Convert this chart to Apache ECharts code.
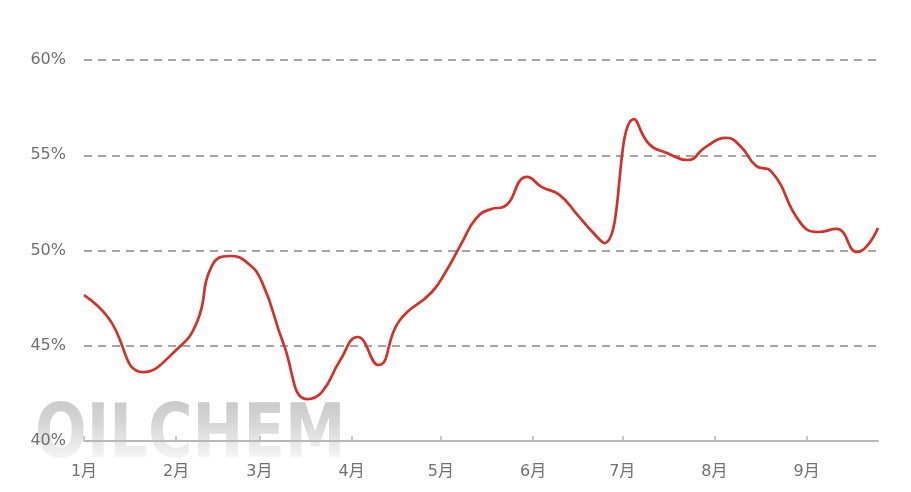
<!DOCTYPE html>
<html>
<head>
<meta charset="utf-8">
<script src="https://cdn.jsdelivr.net/npm/echarts@6/dist/echarts.min.js"></script>
<style>
html,body{margin:0;padding:0;background:#fff;}
#c{width:911px;height:492px;}
</style>
</head>
<body>
<div id="c"></div>
<script>
// Data
const dates = [
  '2025-01-01','2025-01-09','2025-01-21','2025-02-01','2025-02-08','2025-02-13','2025-02-19','2025-02-25',
  '2025-03-02','2025-03-09','2025-03-17','2025-03-22','2025-03-28','2025-04-03','2025-04-10','2025-04-17',
  '2025-04-28','2025-05-03','2025-05-08','2025-05-13','2025-05-18','2025-05-22','2025-05-30','2025-06-04',
  '2025-06-10','2025-06-16','2025-06-21','2025-06-25','2025-07-05','2025-07-10','2025-07-16','2025-07-23',
  '2025-07-29','2025-08-05','2025-08-10','2025-08-15','2025-08-20','2025-08-30','2025-09-05','2025-09-11',
  '2025-09-18','2025-09-25'
];
const values = [
  47.66,46.51,43.62,44.78,46.25,49.19,49.71,49.34,
  48.29,45.14,42.20,42.57,44.20,45.46,43.99,46.30,
  47.82,48.98,50.39,51.71,52.18,52.28,53.86,53.33,
  52.91,51.86,50.97,50.39,56.90,55.59,55.12,54.75,
  55.43,55.91,55.43,54.44,54.17,51.44,50.97,51.13,
  49.92,51.18
];
const yTicks = [40,45,50,55,60];
const monthLabels = ['1月','2月','3月','4月','5月','6月','7月','8月','9月','10月','11月','12月'];
const watermark = 'OILCHEM';

const chart = echarts.init(document.getElementById('c'), null, {renderer:'canvas'});
const DAY = 86400000;
const FONT = '"DejaVu Sans", "Noto Sans CJK SC", sans-serif';
chart.setOption({
  animation:false,
  backgroundColor:'#ffffff',
  grid:{left:84,right:33,top:60,bottom:51,containLabel:false},
  graphic:[{
    type:'text',
    left:35, top:400, silent:true,
    scaleX:0.81,
    style:{
      text:watermark,
      font:'bold 75px "DejaVu Sans"',
      fill:'#c8c8c8'
    }
  },{
    type:'rect',
    left:28, top:398, silent:true,
    shape:{width:330,height:62},
    style:{
      fill:new echarts.graphic.LinearGradient(0,0,0,1,[
        {offset:0,color:'rgba(255,255,255,0)'},
        {offset:0.4,color:'rgba(255,255,255,0.25)'},
        {offset:1,color:'rgba(255,255,255,0.85)'}
      ])
    }
  }],
  xAxis:{
    type:'time',
    z:5,
    min:dates[0],
    max:dates[dates.length-1],
    minInterval:28*DAY,
    maxInterval:31*DAY,
    axisLine:{show:true,lineStyle:{color:'#b8b8b8',width:2}},
    axisTick:{show:true,inside:true,length:5,lineStyle:{color:'#b8b8b8',width:1.5}},
    splitLine:{show:false},
    axisLabel:{
      color:'#707070',fontSize:16,fontFamily:FONT,margin:23,
      showMaxLabel:false,
      formatter:function(v){return monthLabels[new Date(v).getMonth()];}
    }
  },
  yAxis:{
    type:'value',
    z:5,
    min:yTicks[0],max:yTicks[yTicks.length-1],interval:5,
    axisLine:{show:false},
    axisTick:{show:false},
    axisLabel:{color:'#707070',fontSize:16,fontFamily:FONT,margin:18,padding:[4,0,0,0],formatter:'{value}%'},
    splitLine:{show:true,lineStyle:{color:'#888888',width:1.6,type:[8,6]}}
  },
  series:[{
    type:'line',
    z:6,
    data:dates.map((d,i)=>[d,values[i]]),
    smooth:0.5,
    showSymbol:false,
    lineStyle:{color:'#d3302a',width:2.7}
  }]
});
</script>
</body>
</html>
